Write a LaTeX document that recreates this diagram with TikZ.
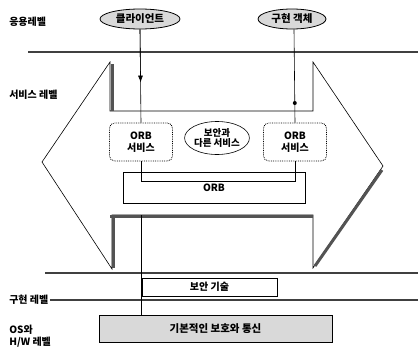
\documentclass[tikz,border=0pt]{standalone}
\usepackage{fontspec}
\setmainfont{Noto Sans CJK KR}
\usepackage{tikz}
\usetikzlibrary{arrows.meta,positioning,shapes.geometric,calc}

\begin{document}
\begin{tikzpicture}[x=1pt, y=-1pt, semithick,
		lvl/.style={font=\fontsize{10}{12}\selectfont\bfseries, anchor=west,
				inner sep=1pt, align=left},
		oval/.style={ellipse, draw, thick, fill=gray!30, inner sep=0pt,
				minimum height=20pt, font=\fontsize{10.5}{12}\selectfont\bfseries},
		svc/.style={rectangle, rounded corners=5pt, draw, thick, densely dotted,
				minimum width=63pt, minimum height=38pt, align=center,
				font=\fontsize{10}{12}\selectfont\bfseries},
		plain/.style={rectangle, draw, inner sep=0pt, align=center,
				font=\fontsize{10}{12}\selectfont\bfseries},
		sep/.style={line width=1.8pt, black!75},
		shade/.style={line width=3pt, gray!65!black},
		arr/.style={-{Latex[length=7pt, width=5pt]}},
		]
		\useasboundingbox (0,0) rectangle (418,359);

		% ---- levels ----
		\node[lvl] (app) at (8,22) {응용레벨};
		\node[lvl] (svclvl) at (8,95) {서비스 레벨};
		\node[lvl] (implvl) at (8,300) {구현 레벨};
		\node[lvl] (oslvl) at (8,336) {OS와\\H/W 레벨};

		\draw[sep] (28,52) -- (418,52);
		\draw[sep] (45,273) -- (418,273);
		\draw[sep] (implvl.east) -- (418,300);

		% ---- big double arrow ----
		\draw (110,62) -- (110,111) -- (313,111) -- (313,62) -- (383,166)
		-- (313,268) -- (313,215) -- (112,215) -- (112,269) -- (42,162) -- cycle;
		\draw[shade] (112,64) -- (112,111);
		\draw[shade] (110,216) -- (313,216);
		\draw[shade] (113,216) -- (113,268);
		\draw[shade] (382,170) -- (315,266);

		% ---- top ----
		\node[oval, minimum width=80pt] (cli) at (140,19) {클라이언트};
		\node[oval, minimum width=68pt] (impl) at (292,19) {구현 객체};

		% ---- service level ----
		\node[svc] (orbL) at (141,142) {ORB\\서비스};
		\node[svc] (orbR) at (295,142) {ORB\\서비스};
		\node[ellipse, draw, inner sep=0pt, minimum width=64pt, minimum height=33pt,
			align=center, font=\fontsize{9.5}{10.5}\selectfont\bfseries]
		(secsvc) at (217,138) {보안과\\다른 서비스};
		\node[plain, minimum width=182pt, minimum height=31pt] (orb) at (214,188) {ORB};

		% ---- lower ----
		\node[plain, minimum width=135pt, minimum height=18pt] (sectech) at (209.5,287) {보안 기술};
		\node[plain, thick, fill=gray!30, minimum width=233pt, minimum height=27pt,
			font=\fontsize{10.5}{12}\selectfont\bfseries] (basic) at (215.5,328.5) {기본적인 보호와 통신};

		% ---- connectors ----
		\draw (cli.south) -- (orbL.north);
		\draw[arr] (cli.south) -- ($(cli.south)!0.57!(orbL.north)$);
		\draw ([xshift=2pt]impl.south) -- (orbR.north);
		\fill ($([xshift=2pt]impl.south)!0.79!(orbR.north)$) circle (2pt);
		\draw (orbL.south) -- ++(0,20) -| (orbR.south);
		\coordinate (lowtop) at (141,215);
		\draw (lowtop) -- (basic.north -| lowtop);

\end{tikzpicture}
\end{document}
